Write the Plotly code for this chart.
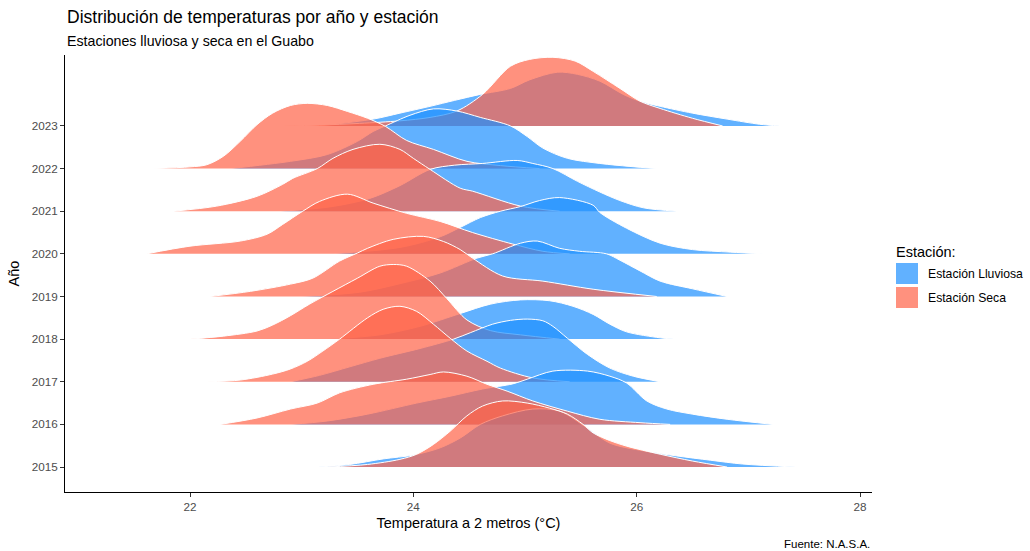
import plotly.graph_objects as go

# Years shown on the ridge axis (bottom to top)
YEARS = [2015, 2016, 2017, 2018, 2019, 2020, 2021, 2022, 2023]
X_TICKS = [22, 24, 26, 28]

# Density ridges: temperature (°C) and scaled density height (in row units)
# ---- 2023
LLUV_2023_T = [23.16, 23.64, 23.88, 24.15, 24.37, 24.60, 24.87, 25.04, 25.29, 25.47, 25.67, 25.88, 26.03, 26.21, 26.50, 26.81, 27.10, 27.28]
LLUV_2023_H = [0, 0.16, 0.30, 0.46, 0.60, 0.74, 0.88, 1.08, 1.26, 1.21, 1.05, 0.74, 0.58, 0.46, 0.30, 0.16, 0.04, 0]
SECA_2023_T = [22.83, 23.16, 23.52, 23.88, 24.15, 24.39, 24.62, 24.87, 25.04, 25.25, 25.45, 25.61, 25.85, 26.03, 26.21, 26.50, 26.77]
SECA_2023_H = [0, 0.02, 0.06, 0.12, 0.20, 0.35, 0.74, 1.40, 1.56, 1.61, 1.52, 1.28, 0.88, 0.58, 0.41, 0.18, 0]
# ---- 2022
LLUV_2022_T = [22.36, 22.90, 23.23, 23.50, 23.64, 23.75, 23.97, 24.18, 24.39, 24.60, 24.87, 25.02, 25.16, 25.38, 25.67, 25.94, 26.18]
LLUV_2022_H = [0, 0.17, 0.33, 0.64, 0.87, 1.00, 1.25, 1.40, 1.35, 1.20, 1.00, 0.75, 0.48, 0.24, 0.12, 0.05, 0]
SECA_2022_T = [21.67, 22.00, 22.15, 22.30, 22.45, 22.60, 22.74, 22.90, 23.05, 23.23, 23.41, 23.59, 23.75, 23.94, 24.18, 24.48, 24.78, 25.13]
SECA_2022_H = [0, 0.04, 0.09, 0.29, 0.64, 1.03, 1.30, 1.48, 1.53, 1.48, 1.34, 1.18, 0.99, 0.66, 0.45, 0.17, 0.07, 0]
# ---- 2021
LLUV_2021_T = [22.81, 23.25, 23.61, 23.88, 24.15, 24.37, 24.62, 24.93, 25.07, 25.25, 25.47, 25.67, 25.85, 26.06, 26.36]
LLUV_2021_H = [0, 0.10, 0.30, 0.60, 0.98, 1.08, 1.12, 1.19, 1.12, 1.00, 0.70, 0.45, 0.25, 0.08, 0]
SECA_2021_T = [21.85, 22.24, 22.60, 22.83, 22.92, 23.14, 23.28, 23.46, 23.70, 23.88, 24.00, 24.15, 24.42, 24.53, 24.96, 25.31]
SECA_2021_H = [0, 0.12, 0.35, 0.63, 0.77, 1.00, 1.24, 1.45, 1.57, 1.45, 1.24, 0.98, 0.54, 0.47, 0.12, 0]
# ---- 2020
LLUV_2020_T = [23.25, 23.88, 24.24, 24.42, 24.60, 24.78, 24.96, 25.13, 25.31, 25.61, 25.67, 25.91, 26.21, 26.50, 26.84, 27.15]
LLUV_2020_H = [0, 0.15, 0.40, 0.62, 0.85, 1.00, 1.11, 1.25, 1.32, 1.14, 0.97, 0.60, 0.25, 0.10, 0.04, 0]
SECA_2020_T = [21.61, 22.00, 22.45, 22.69, 22.83, 23.01, 23.16, 23.41, 23.64, 23.94, 24.24, 24.53, 24.89, 25.16, 25.40]
SECA_2020_H = [0, 0.18, 0.30, 0.46, 0.69, 1.00, 1.23, 1.40, 1.19, 0.95, 0.76, 0.50, 0.23, 0.06, 0]
# ---- 2019
LLUV_2019_T = [22.99, 23.52, 23.88, 24.24, 24.57, 24.71, 24.96, 25.11, 25.31, 25.49, 25.73, 25.85, 26.03, 26.21, 26.50, 26.81]
LLUV_2019_H = [0, 0.10, 0.30, 0.55, 0.90, 1.00, 1.25, 1.30, 1.13, 1.06, 1.00, 0.85, 0.60, 0.36, 0.18, 0]
SECA_2019_T = [22.18, 22.54, 22.90, 23.10, 23.34, 23.50, 23.59, 23.82, 24.09, 24.27, 24.42, 24.53, 24.80, 25.16, 25.61, 26.18]
SECA_2019_H = [0, 0.12, 0.29, 0.43, 0.83, 1.02, 1.13, 1.34, 1.41, 1.29, 1.10, 0.90, 0.48, 0.36, 0.17, 0]
# ---- 2018
LLUV_2018_T = [23.25, 23.70, 24.06, 24.42, 24.69, 24.96, 25.22, 25.43, 25.61, 25.76, 25.91, 26.21, 26.33]
LLUV_2018_H = [0, 0.10, 0.30, 0.60, 0.82, 0.92, 0.90, 0.77, 0.58, 0.35, 0.17, 0.03, 0]
SECA_2018_T = [22.00, 22.30, 22.60, 22.74, 22.90, 23.07, 23.28, 23.50, 23.70, 23.82, 23.94, 24.15, 24.30, 24.48, 24.69, 24.96, 25.31]
SECA_2018_H = [0, 0.07, 0.19, 0.33, 0.55, 0.82, 1.12, 1.43, 1.71, 1.75, 1.71, 1.36, 0.95, 0.45, 0.20, 0.10, 0]
# ---- 2017
LLUV_2017_T = [22.90, 23.16, 23.43, 23.70, 24.06, 24.36, 24.51, 24.71, 24.87, 25.02, 25.16, 25.25, 25.38, 25.56, 25.76, 25.97, 26.21]
LLUV_2017_H = [0, 0.15, 0.35, 0.55, 0.78, 1.00, 1.15, 1.35, 1.44, 1.47, 1.43, 1.30, 1.02, 0.64, 0.32, 0.13, 0]
SECA_2017_T = [22.15, 22.45, 22.74, 22.90, 23.05, 23.19, 23.34, 23.59, 23.73, 23.88, 24.03, 24.18, 24.33, 24.48, 24.66, 24.78, 25.07, 25.40]
SECA_2017_H = [0, 0.04, 0.18, 0.30, 0.48, 0.72, 1.00, 1.50, 1.70, 1.77, 1.65, 1.35, 1.02, 0.72, 0.48, 0.32, 0.09, 0]
# ---- 2016
LLUV_2016_T = [22.90, 23.23, 23.59, 24.03, 24.33, 24.62, 24.89, 25.02, 25.25, 25.56, 25.76, 25.91, 26.09, 26.27, 26.50, 26.81, 27.22]
LLUV_2016_H = [0, 0.08, 0.24, 0.50, 0.66, 0.83, 0.95, 1.06, 1.25, 1.25, 1.13, 0.97, 0.55, 0.36, 0.24, 0.12, 0]
SECA_2016_T = [22.27, 22.60, 22.90, 23.14, 23.34, 23.64, 23.94, 24.15, 24.27, 24.48, 24.66, 24.84, 25.07, 25.38, 25.67, 26.03, 26.30]
SECA_2016_H = [0, 0.15, 0.36, 0.50, 0.74, 0.94, 1.06, 1.17, 1.23, 1.13, 0.94, 0.78, 0.55, 0.31, 0.12, 0.04, 0]
# ---- 2015
LLUV_2015_T = [23.15, 23.43, 23.73, 24.00, 24.24, 24.42, 24.60, 24.80, 25.07, 25.31, 25.56, 25.76, 26.06, 26.36, 26.66, 26.95, 27.42]
LLUV_2015_H = [0, 0.06, 0.19, 0.28, 0.45, 0.68, 1.00, 1.20, 1.36, 1.31, 0.91, 0.56, 0.38, 0.26, 0.16, 0.07, 0]
SECA_2015_T = [23.23, 23.59, 23.88, 24.03, 24.18, 24.33, 24.48, 24.62, 24.80, 25.02, 25.22, 25.38, 25.52, 25.61, 25.76, 25.91, 26.21, 26.50, 26.81]
SECA_2015_H = [0, 0.06, 0.18, 0.30, 0.53, 0.84, 1.20, 1.43, 1.55, 1.50, 1.38, 1.24, 1.00, 0.80, 0.62, 0.49, 0.30, 0.14, 0]

RIDGES = {
    2023: ((LLUV_2023_T, LLUV_2023_H), (SECA_2023_T, SECA_2023_H)),
    2022: ((LLUV_2022_T, LLUV_2022_H), (SECA_2022_T, SECA_2022_H)),
    2021: ((LLUV_2021_T, LLUV_2021_H), (SECA_2021_T, SECA_2021_H)),
    2020: ((LLUV_2020_T, LLUV_2020_H), (SECA_2020_T, SECA_2020_H)),
    2019: ((LLUV_2019_T, LLUV_2019_H), (SECA_2019_T, SECA_2019_H)),
    2018: ((LLUV_2018_T, LLUV_2018_H), (SECA_2018_T, SECA_2018_H)),
    2017: ((LLUV_2017_T, LLUV_2017_H), (SECA_2017_T, SECA_2017_H)),
    2016: ((LLUV_2016_T, LLUV_2016_H), (SECA_2016_T, SECA_2016_H)),
    2015: ((LLUV_2015_T, LLUV_2015_H), (SECA_2015_T, SECA_2015_H)),
}

BLUE = "rgba(30,144,255,0.7)"
RED = "rgba(255,99,71,0.7)"
FONT = "Liberation Sans, Arial, sans-serif"

fig = go.Figure()

# Ridges are drawn from the top row down so lower rows overlap upper ones
for year in sorted(RIDGES, reverse=True):
    base = YEARS.index(year) + 1
    for (temps, heights), color in zip(RIDGES[year], (BLUE, RED)):
        fig.add_trace(go.Scatter(
            x=[temps[0], temps[-1]], y=[base, base], mode="lines",
            line=dict(width=0, color="rgba(0,0,0,0)"),
            showlegend=False, hoverinfo="skip"))
        fig.add_trace(go.Scatter(
            x=temps, y=[base + h for h in heights], mode="lines",
            fill="tonexty", fillcolor=color,
            line=dict(color="white", width=1, shape="spline", smoothing=0.9),
            showlegend=False, hoverinfo="skip"))

# Plot panel geometry in pixels
W, H = 1030, 551
L, R, T, B = 65, 872, 55, 492
pw, ph = R - L, B - T

def px(x):
    return (x - L) / pw

def py(y):
    return (B - y) / ph

annotations = [
    dict(text="Distribución de temperaturas por año y estación", x=0, y=py(17),
         xref="paper", yref="paper", xanchor="left", yanchor="middle",
         showarrow=False, font=dict(family=FONT, size=17.5, color="#000000")),
    dict(text="Estaciones lluviosa y seca en el Guabo", x=0, y=py(41),
         xref="paper", yref="paper", xanchor="left", yanchor="middle",
         showarrow=False, font=dict(family=FONT, size=14.2, color="#000000")),
    dict(text="Fuente: N.A.S.A.", x=1, y=py(544),
         xref="paper", yref="paper", xanchor="right", yanchor="middle",
         showarrow=False, font=dict(family=FONT, size=11.5, color="#000000")),
    dict(text="Estación:", x=px(894), y=py(252),
         xref="paper", yref="paper", xanchor="left", yanchor="middle",
         showarrow=False, font=dict(family=FONT, size=14.5, color="#000000")),
    dict(text="Estación Lluviosa", x=px(926), y=py(274),
         xref="paper", yref="paper", xanchor="left", yanchor="middle",
         showarrow=False, font=dict(family=FONT, size=12.2, color="#000000")),
    dict(text="Estación Seca", x=px(926), y=py(298),
         xref="paper", yref="paper", xanchor="left", yanchor="middle",
         showarrow=False, font=dict(family=FONT, size=12.2, color="#000000")),
]

shapes = [
    dict(type="rect", xref="paper", yref="paper", x0=px(896), x1=px(918),
         y0=py(284), y1=py(263), fillcolor=BLUE, line=dict(width=0)),
    dict(type="rect", xref="paper", yref="paper", x0=px(896), x1=px(918),
         y0=py(308), y1=py(287), fillcolor=RED, line=dict(width=0)),
]

x_per_px = (28 - 22) / (860 - 190)
fig.update_layout(
    width=W, height=H,
    margin=dict(l=L, r=W - R, t=T, b=H - B, pad=0),
    paper_bgcolor="white", plot_bgcolor="white",
    showlegend=False,
    font=dict(family=FONT),
    annotations=annotations,
    shapes=shapes,
    xaxis=dict(
        range=[22 - (190 - L) * x_per_px, 22 + (R - 190) * x_per_px],
        tickvals=X_TICKS, ticktext=[str(v) for v in X_TICKS],
        ticks="outside", ticklen=4, tickcolor="#333333", tickwidth=1,
        showline=True, linecolor="#000000", linewidth=1,
        showgrid=False, zeroline=False,
        tickfont=dict(family=FONT, size=11.7, color="#4D4D4D"),
        title=dict(text="Temperatura a 2 metros (°C)", standoff=5,
                   font=dict(family=FONT, size=14.5, color="#000000")),
    ),
    yaxis=dict(
        range=[1 - (B - 467) / 42.67, 9 + (126 - T) / 42.67],
        tickvals=list(range(1, len(YEARS) + 1)),
        ticktext=[str(y) for y in YEARS],
        ticks="outside", ticklen=4, tickcolor="#333333", tickwidth=1,
        showline=True, linecolor="#000000", linewidth=1,
        showgrid=False, zeroline=False,
        tickfont=dict(family=FONT, size=11.7, color="#4D4D4D"),
        title=dict(text="Año", standoff=8,
                   font=dict(family=FONT, size=14.5, color="#000000")),
    ),
)

fig.write_html("out.html")
